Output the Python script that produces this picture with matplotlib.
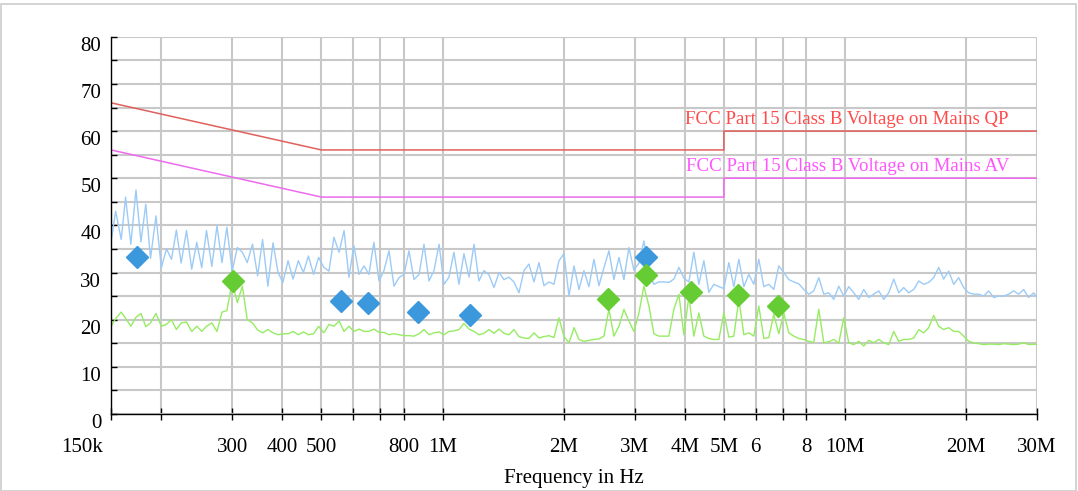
import numpy as np
import matplotlib
matplotlib.use("Agg")
import matplotlib.pyplot as plt
from matplotlib.ticker import FixedLocator, NullLocator
from matplotlib.transforms import ScaledTranslation
from matplotlib.patches import Rectangle

plt.rcParams['font.family'] = ['Liberation Serif', 'DejaVu Serif']

# sweep frequencies (kHz)
freq_khz = [
  150, 154, 159, 163, 168, 173, 178, 183, 188, 194,
  200, 206, 212, 218, 224, 231, 238, 245, 252, 259,
  267, 275, 283, 291, 300, 309, 318, 327, 337, 347,
  357, 368, 379, 390, 401, 413, 425, 438, 451, 464,
  478, 492, 507, 522, 537, 553, 569, 585, 602, 620,
  638, 656, 675, 695, 715, 736, 757, 779, 802, 825,
  849, 874, 899, 925, 952, 980, 1008, 1037, 1067, 1098,
  1130, 1163, 1197, 1231, 1267, 1304, 1342, 1381, 1421, 1462,
  1504, 1548, 1593, 1639, 1687, 1736, 1786, 1838, 1891, 1946,
  2003, 2061, 2121, 2182, 2245, 2310, 2377, 2446, 2517, 2590,
  2665, 2743, 2822, 2904, 2988, 3075, 3164, 3256, 3350, 3447,
  3547, 3650, 3756, 3865, 3977, 4093, 4211, 4333, 4459, 4588,
  4721, 4858, 4999, 5144, 5293, 5447, 5605, 5767, 5934, 6106,
  6283, 6466, 6653, 6846, 7045, 7249, 7459, 7676, 7898, 8127,
  8363, 8605, 8855, 9112, 9376, 9648, 9928, 10216, 10512, 10817,
  11131, 11454, 11786, 12128, 12479, 12841, 13214, 13597, 13991, 14397,
  14815, 15244, 15686, 16141, 16609, 17091, 17587, 18097, 18621, 19161,
  19717, 20289, 20877, 21483, 22106, 22747, 23406, 24085, 24784, 25502,
  26242, 27003, 27786, 28592, 29421, 30000]

# peak trace (dBuV)
peak_db = [
  36.5, 43, 37, 46, 36, 47.5, 36.5, 44.5, 33, 42,
  31, 35, 32.8, 39, 32, 38.9, 30.7, 36.4, 31, 38.9,
  31.3, 39.9, 32.1, 39.6, 30.3, 35.3, 34.3, 32.1, 36, 29.3,
  37, 27.1, 36.3, 30, 27.9, 32.5, 28.6, 32.5, 30, 33.5,
  29.6, 33.2, 31.1, 30.3, 37.5, 34.3, 38.9, 29, 35.7, 29.6,
  31.4, 29.6, 36.4, 28.2, 30.4, 34.6, 27.1, 28.9, 29.6, 34.6,
  28.5, 29.6, 36, 28.2, 30.4, 36, 27.5, 29, 34.3, 27.5,
  34, 29, 36, 28.2, 30.4, 29.5, 26.8, 30, 28.5, 29,
  28, 25.7, 30.4, 31.8, 28, 32.1, 27.2, 28, 27.5, 32.5,
  34, 25, 31.4, 26.4, 30.4, 27, 32.8, 27.2, 31, 34.6,
  28.5, 33.2, 28.5, 35.3, 30.5, 32, 36.7, 30, 27.5, 28,
  28, 27.9, 28.6, 31.1, 28.8, 28, 34.3, 27.5, 32.5, 25.8,
  27.5, 27, 26.6, 32.1, 27, 32.8, 27, 29.6, 27.5, 32.8,
  27, 27.5, 26.4, 31.4, 30, 28.5, 28, 27.6, 26.4, 25.4,
  26.1, 28.9, 25.4, 25.7, 24.3, 27.1, 25, 27, 25.7, 24.3,
  26.4, 24.7, 25.4, 26.1, 24.3, 25.7, 28.6, 25.7, 26.8, 25.7,
  26.4, 28.2, 27.5, 27.9, 28.9, 31.1, 28.6, 30.3, 27.5, 28.9,
  26.8, 25.7, 25.4, 25.4, 25, 26.1, 24.7, 25, 25, 25.4,
  26.1, 25.4, 26.4, 24.7, 25.7, 24.7]

# average trace (dBuV)
avg_db = [
  18.6, 20.2, 21.6, 20.3, 18.6, 20.5, 21.3, 18.5, 19.3, 21.3,
  18.6, 19, 20, 17.9, 19.3, 19.5, 17.5, 18.6, 17.5, 18.6,
  19.3, 17.5, 21.6, 21.9, 28, 23.6, 27.1, 20, 19.3, 17.8,
  17.2, 17.9, 17.2, 16.8, 17, 17, 17.5, 16.8, 17.4, 16.8,
  17, 18.6, 17.2, 19, 18.6, 19.7, 17.5, 18.6, 17.5, 18,
  17.5, 17.5, 18, 17.3, 17.3, 16.8, 17, 16.8, 16.6, 16.6,
  16.5, 17, 17.9, 16.8, 17.2, 17.4, 16.8, 17.5, 17.6, 17.9,
  19.2, 18, 17.5, 16.8, 17.1, 17.9, 17.1, 18, 17.1, 16.8,
  17.9, 16.4, 16.1, 16, 17.2, 16.1, 16.4, 16.6, 16.2, 20.4,
  16.4, 15.1, 18.3, 15.8, 15.4, 15.6, 15.8, 15.9, 16.5, 22.2,
  16.5, 18.6, 22.2, 19.7, 17.5, 21.4, 27.1, 22.9, 17, 16.5,
  16.5, 16.5, 22.2, 25.4, 16.8, 25, 16.5, 21.4, 16.5, 16,
  15.8, 15.8, 21.4, 16.3, 16.5, 24.3, 16.8, 17.2, 16.5, 22.9,
  16, 16.2, 21.1, 17, 21.4, 17.2, 16.5, 16, 15.8, 15.4,
  15.2, 22.2, 15.1, 15.3, 15.8, 15, 20.4, 15.1, 14.7, 15.4,
  14.4, 15.6, 15.1, 15.8, 15.1, 14.7, 17.5, 15.4, 15.8, 15.8,
  16.1, 17.9, 17.2, 18.3, 20.9, 18.6, 17.9, 18.3, 17.5, 17.5,
  16.5, 15.4, 15.1, 14.9, 14.7, 14.8, 14.8, 14.7, 14.9, 14.8,
  14.7, 14.8, 15.1, 14.7, 14.8, 14.7]

# FCC Part 15 class B limits (MHz, dBuV)
limit_f = [0.15, 0.5, 5.0, 5.0, 30.0]
qp_limit = [66, 56, 56, 60, 60]
av_limit = [56, 46, 46, 50, 50]

# final measurement markers
peak_mark_f = [0.174, 0.559, 0.654, 0.867, 1.17, 3.2]
peak_mark_db = [33.3, 23.9, 23.5, 21.7, 21.0, 33.3]
avg_mark_f = [0.301, 2.58, 3.2, 4.14, 5.43, 6.83]
avg_mark_db = [28.2, 24.3, 29.4, 25.9, 25.2, 23.0]

tick_f = [0.15, 0.2, 0.3, 0.4, 0.5, 0.6, 0.7, 0.8, 1, 2, 3, 4, 5, 6, 7, 8, 10, 20, 30]
tick_lbl = ['150k', '', '300', '400', '500', '', '', '800', '1M', '2M', '3M', '4M',
            '5M', '6', '', '8', '10M', '20M', '30M']

fig = plt.figure(figsize=(10.78, 4.91), dpi=100)
fig.patches.append(Rectangle((0.001, 0.001), 0.997, 0.99, transform=fig.transFigure,
                             fill=False, edgecolor='#cccccc', lw=1.2))
ax = fig.add_axes([0.103, 0.157, 0.859, 0.768])

f_mhz = np.array(freq_khz) / 1000.0
ax.plot(f_mhz, peak_db, color='#9ccbf7', lw=1)
ax.plot(f_mhz, avg_db, color='#96ec62', lw=1)
ax.plot(limit_f, qp_limit, color='#e0605c', lw=1.1)
ax.plot(limit_f, av_limit, color='#ee6aee', lw=1.1)
ax.plot(peak_mark_f, peak_mark_db, ls='none', marker='D', ms=11, color='#3b98dd')
ax.plot(avg_mark_f, avg_mark_db, ls='none', marker='D', ms=11, color='#66cc33')

ax.text(4.0, 60.7, 'FCC Part 15 Class B Voltage on Mains QP', color='#ff4a4a',
        fontsize=13.6, va='bottom', ha='left')
ax.text(4.03, 50.7, 'FCC Part 15 Class B Voltage on Mains AV', color='#ff55ff',
        fontsize=13.6, va='bottom', ha='left')

ax.set_xscale('log')
ax.set_xlim(0.15, 30)
ax.set_ylim(0, 80)
ax.xaxis.set_major_locator(FixedLocator(tick_f))
ax.xaxis.set_minor_locator(NullLocator())
ax.set_xticklabels(tick_lbl)
ax.set_yticks(range(0, 81, 10))
ax.set_yticks(range(5, 80, 10), minor=True)

ax.grid(True, which='both', color='#c8c8c8', lw=1.5)
ax.set_axisbelow(True)
for s in ['top', 'right']:
  ax.spines[s].set_visible(False)
for s in ['left', 'bottom']:
  ax.spines[s].set_color('black')
  ax.spines[s].set_linewidth(1.0)

ax.tick_params(axis='x', direction='inout', length=8, width=1, pad=13, labelsize=15)
ax.tick_params(axis='y', which='both', direction='in', length=4.5, width=1, pad=7, labelsize=15)
for lbl in ax.get_yticklabels():
  lbl.set_va('top')
first = ax.get_xticklabels()[0]
first.set_ha('right')
first.set_transform(first.get_transform() + ScaledTranslation(-6 / 72, 0, fig.dpi_scale_trans))

ax.set_xlabel('Frequency in Hz', fontsize=15, labelpad=9)

fig.savefig('out.png', dpi=100)
